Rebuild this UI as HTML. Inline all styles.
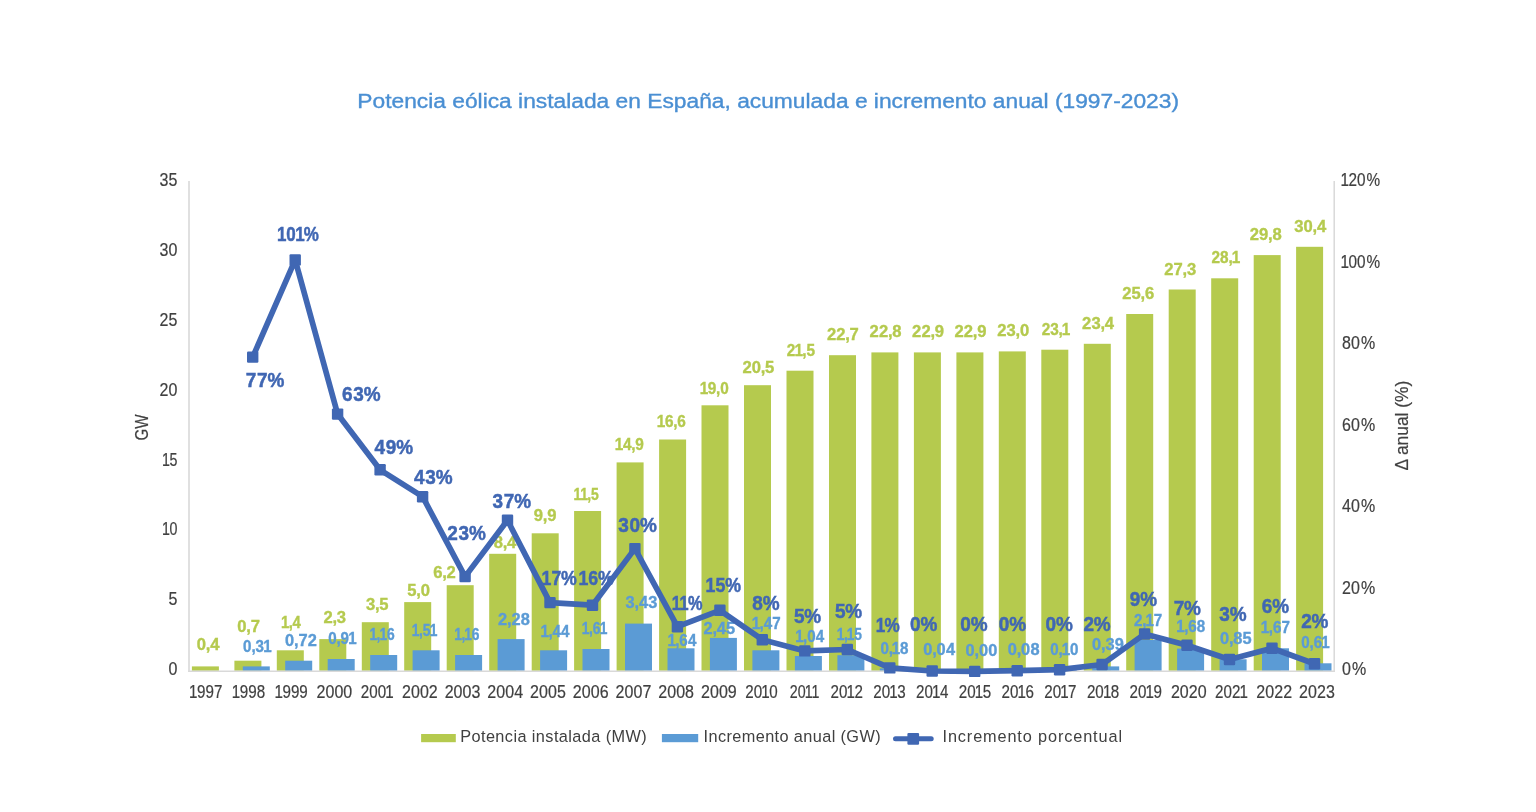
<!DOCTYPE html>
<html lang="es"><head><meta charset="utf-8"><title>Potencia eólica instalada en España</title>
<style>html,body{margin:0;padding:0;background:#fff}body{width:1536px;height:812px;overflow:hidden}svg{display:block}text{font-family:"Liberation Sans",sans-serif}.tk{font-size:18px;fill:#404040;stroke:#404040;stroke-width:.2px}.gl{font-size:16.6px;font-weight:bold;fill:#b5ca4e;stroke:#b5ca4e;stroke-width:.35px}.bl{font-size:16.4px;font-weight:bold;fill:#5b9bd5;stroke:#5b9bd5;stroke-width:.35px}.pl{font-size:20.4px;font-weight:bold;fill:#4067b3;stroke:#4067b3;stroke-width:.5px}.lg{font-size:16.3px;fill:#404040}</style></head><body>
<svg width="1536" height="812" viewBox="0 0 1536 812">
<rect width="1536" height="812" fill="#ffffff"/>
<text x="357.3" y="107.6" font-size="19.6" fill="#4a8fd3" stroke="#4a8fd3" stroke-width="0.35" textLength="821.7" lengthAdjust="spacingAndGlyphs">Potencia eólica instalada en España, acumulada e incremento anual (1997-2023)</text>
<g stroke="#d9d9d9" fill="none">
<line x1="189.0" y1="181.0" x2="189.0" y2="672.0" stroke-width="1.6"/>
<line x1="1334.2" y1="181.0" x2="1334.2" y2="672.0" stroke-width="1.5"/>
</g>
<g fill="#b5ca4e">
<rect x="191.9" y="666.4" width="27.0" height="4.4"/>
<rect x="234.4" y="660.7" width="27.0" height="10.1"/>
<rect x="276.8" y="650.3" width="27.0" height="20.5"/>
<rect x="319.3" y="639.1" width="27.0" height="31.7"/>
<rect x="361.8" y="622.2" width="27.0" height="48.6"/>
<rect x="404.2" y="602.1" width="27.0" height="68.7"/>
<rect x="446.7" y="585.2" width="27.0" height="85.6"/>
<rect x="489.2" y="553.8" width="27.0" height="117.0"/>
<rect x="531.7" y="533.3" width="27.0" height="137.5"/>
<rect x="574.1" y="511.0" width="27.0" height="159.8"/>
<rect x="616.6" y="462.4" width="27.0" height="208.4"/>
<rect x="659.1" y="439.5" width="27.0" height="231.3"/>
<rect x="701.5" y="405.3" width="27.0" height="265.5"/>
<rect x="744.0" y="385.2" width="27.0" height="285.6"/>
<rect x="786.5" y="370.7" width="27.0" height="300.1"/>
<rect x="829.0" y="355.2" width="27.0" height="315.6"/>
<rect x="871.4" y="352.4" width="27.0" height="318.4"/>
<rect x="913.9" y="352.4" width="27.0" height="318.4"/>
<rect x="956.4" y="352.4" width="27.0" height="318.4"/>
<rect x="998.8" y="351.4" width="27.0" height="319.4"/>
<rect x="1041.3" y="349.7" width="27.0" height="321.1"/>
<rect x="1083.8" y="343.8" width="27.0" height="327.0"/>
<rect x="1126.2" y="314.0" width="27.0" height="356.8"/>
<rect x="1168.7" y="289.5" width="27.0" height="381.3"/>
<rect x="1211.2" y="278.3" width="27.0" height="392.5"/>
<rect x="1253.7" y="255.1" width="27.0" height="415.7"/>
<rect x="1296.1" y="246.8" width="27.0" height="424.0"/>
</g>
<g fill="#5b9bd5">
<rect x="242.8" y="666.4" width="27.0" height="4.4"/>
<rect x="285.2" y="660.7" width="27.0" height="10.1"/>
<rect x="327.7" y="659.0" width="27.0" height="11.8"/>
<rect x="370.2" y="655.0" width="27.0" height="15.8"/>
<rect x="412.6" y="650.3" width="27.0" height="20.5"/>
<rect x="455.1" y="655.0" width="27.0" height="15.8"/>
<rect x="497.6" y="639.1" width="27.0" height="31.7"/>
<rect x="540.1" y="650.3" width="27.0" height="20.5"/>
<rect x="582.5" y="649.0" width="27.0" height="21.8"/>
<rect x="625.0" y="623.6" width="27.0" height="47.2"/>
<rect x="667.5" y="648.3" width="27.0" height="22.5"/>
<rect x="709.9" y="637.9" width="27.0" height="32.9"/>
<rect x="752.4" y="650.3" width="27.0" height="20.5"/>
<rect x="794.9" y="656.0" width="27.0" height="14.8"/>
<rect x="837.4" y="655.2" width="27.0" height="15.6"/>
<rect x="879.8" y="668.4" width="27.0" height="2.4"/>
<rect x="922.3" y="670.2" width="27.0" height="0.6"/>
<rect x="1007.2" y="669.7" width="27.0" height="1.1"/>
<rect x="1049.7" y="669.4" width="27.0" height="1.4"/>
<rect x="1092.2" y="666.4" width="27.0" height="4.4"/>
<rect x="1134.6" y="640.0" width="27.0" height="30.8"/>
<rect x="1177.1" y="648.6" width="27.0" height="22.2"/>
<rect x="1219.6" y="659.3" width="27.0" height="11.5"/>
<rect x="1262.0" y="648.3" width="27.0" height="22.5"/>
<rect x="1304.5" y="663.3" width="27.0" height="7.5"/>
</g>
<line x1="188.2" y1="671.2" x2="1335.0" y2="671.2" stroke="#d9d9d9" stroke-width="1.6"/>
<text class="tk" transform="translate(0,675.1) scale(0.890,1)" x="189.3">0</text>
<text class="tk" transform="translate(0,605.2) scale(0.890,1)" x="189.3">5</text>
<text class="tk" transform="translate(0,535.4) scale(0.792,1)" x="204.5 214.0">10</text>
<text class="tk" transform="translate(0,465.5) scale(0.792,1)" x="204.5 214.0">15</text>
<text class="tk" transform="translate(0,395.6) scale(0.890,1)" x="179.2 189.3">20</text>
<text class="tk" transform="translate(0,325.8) scale(0.890,1)" x="179.2 189.3">25</text>
<text class="tk" transform="translate(0,255.9) scale(0.890,1)" x="179.2 189.3">30</text>
<text class="tk" transform="translate(0,186.1) scale(0.890,1)" x="179.2 189.3">35</text>
<text class="tk" transform="translate(0,675.1) scale(0.890,1)" x="1508.0 1519.1">0%</text>
<text class="tk" transform="translate(0,593.6) scale(0.890,1)" x="1508.0 1518.1 1529.2">20%</text>
<text class="tk" transform="translate(0,512.1) scale(0.890,1)" x="1508.0 1518.1 1529.2">40%</text>
<text class="tk" transform="translate(0,430.6) scale(0.890,1)" x="1508.0 1518.1 1529.2">60%</text>
<text class="tk" transform="translate(0,349.1) scale(0.890,1)" x="1508.0 1518.1 1529.2">80%</text>
<text class="tk" transform="translate(0,267.6) scale(0.851,1)" x="1575.2 1584.7 1594.7 1605.9">100%</text>
<text class="tk" transform="translate(0,186.1) scale(0.851,1)" x="1575.2 1584.7 1594.7 1605.9">120%</text>
<text class="tk" transform="translate(0,697.6) scale(0.843,1)" x="224.2 233.7 243.7 253.8">1997</text>
<text class="tk" transform="translate(0,697.6) scale(0.843,1)" x="274.9 284.3 294.4 304.5">1998</text>
<text class="tk" transform="translate(0,697.6) scale(0.843,1)" x="325.6 335.0 345.1 355.1">1999</text>
<text class="tk" transform="translate(0,697.6) scale(0.890,1)" x="355.6 365.7 375.8 385.8">2000</text>
<text class="tk" transform="translate(0,697.6) scale(0.843,1)" x="428.0 438.1 448.1 457.0">2001</text>
<text class="tk" transform="translate(0,697.6) scale(0.890,1)" x="451.6 461.7 471.8 481.8">2002</text>
<text class="tk" transform="translate(0,697.6) scale(0.890,1)" x="499.6 509.7 519.8 529.8">2003</text>
<text class="tk" transform="translate(0,697.6) scale(0.890,1)" x="547.6 557.7 567.8 577.8">2004</text>
<text class="tk" transform="translate(0,697.6) scale(0.890,1)" x="595.6 605.7 615.8 625.8">2005</text>
<text class="tk" transform="translate(0,697.6) scale(0.890,1)" x="643.6 653.7 663.8 673.8">2006</text>
<text class="tk" transform="translate(0,697.6) scale(0.890,1)" x="691.6 701.7 711.8 721.8">2007</text>
<text class="tk" transform="translate(0,697.6) scale(0.890,1)" x="739.6 749.7 759.8 769.8">2008</text>
<text class="tk" transform="translate(0,697.6) scale(0.890,1)" x="787.6 797.7 807.8 817.8">2009</text>
<text class="tk" transform="translate(0,697.6) scale(0.843,1)" x="884.0 894.0 903.0 912.4">2010</text>
<text class="tk" transform="translate(0,697.6) scale(0.792,1)" x="997.2 1007.2 1016.2 1024.5">2011</text>
<text class="tk" transform="translate(0,697.6) scale(0.843,1)" x="985.3 995.4 1004.3 1013.7">2012</text>
<text class="tk" transform="translate(0,697.6) scale(0.843,1)" x="1036.0 1046.0 1054.9 1064.4">2013</text>
<text class="tk" transform="translate(0,697.6) scale(0.843,1)" x="1086.6 1096.7 1105.6 1115.1">2014</text>
<text class="tk" transform="translate(0,697.6) scale(0.843,1)" x="1137.3 1147.3 1156.3 1165.7">2015</text>
<text class="tk" transform="translate(0,697.6) scale(0.843,1)" x="1188.0 1198.0 1206.9 1216.4">2016</text>
<text class="tk" transform="translate(0,697.6) scale(0.843,1)" x="1238.6 1248.7 1257.6 1267.0">2017</text>
<text class="tk" transform="translate(0,697.6) scale(0.843,1)" x="1289.3 1299.3 1308.3 1317.7">2018</text>
<text class="tk" transform="translate(0,697.6) scale(0.843,1)" x="1339.9 1350.0 1358.9 1368.4">2019</text>
<text class="tk" transform="translate(0,697.6) scale(0.890,1)" x="1315.6 1325.7 1335.8 1345.8">2020</text>
<text class="tk" transform="translate(0,697.6) scale(0.843,1)" x="1441.3 1451.3 1461.4 1470.3">2021</text>
<text class="tk" transform="translate(0,697.6) scale(0.890,1)" x="1411.6 1421.7 1431.8 1441.8">2022</text>
<text class="tk" transform="translate(0,697.6) scale(0.890,1)" x="1459.6 1469.7 1479.8 1489.8">2023</text>
<text class="tk" transform="translate(148.2,427.5) rotate(-90)" text-anchor="middle" textLength="26" lengthAdjust="spacingAndGlyphs">GW</text>
<text class="tk" transform="translate(1408.2,425.6) rotate(-90)" text-anchor="middle" textLength="90" lengthAdjust="spacingAndGlyphs">Δ anual (%)</text>
<text class="gl" transform="translate(0,650.3) scale(1.000,1)" x="196.8 205.8 210.2">0,4</text>
<text class="gl" transform="translate(0,632.2) scale(1.000,1)" x="237.3 246.3 250.7">0,7</text>
<text class="gl" transform="translate(0,627.9) scale(0.892,1)" x="315.0 323.6 327.9">1,4</text>
<text class="gl" transform="translate(0,623.3) scale(1.000,1)" x="323.4 332.4 336.8">2,3</text>
<text class="gl" transform="translate(0,610.3) scale(1.000,1)" x="365.9 374.9 379.3">3,5</text>
<text class="gl" transform="translate(0,595.5) scale(1.000,1)" x="407.3 416.3 420.7">5,0</text>
<text class="gl" transform="translate(0,578.3) scale(1.000,1)" x="433.2 442.2 446.6">6,2</text>
<text class="gl" transform="translate(0,548.3) scale(1.000,1)" x="493.7 502.7 507.1">8,4</text>
<text class="gl" transform="translate(0,520.7) scale(1.000,1)" x="533.8 542.8 547.2">9,9</text>
<text class="gl" transform="translate(0,500.2) scale(0.842,1)" x="681.1 689.0 697.6 702.0">11,5</text>
<text class="gl" transform="translate(0,450.2) scale(0.925,1)" x="664.6 673.4 682.4 686.8">14,9</text>
<text class="gl" transform="translate(0,427.1) scale(0.925,1)" x="710.0 718.8 727.8 732.2">16,6</text>
<text class="gl" transform="translate(0,394.3) scale(0.925,1)" x="756.4 765.2 774.2 778.6">19,0</text>
<text class="gl" transform="translate(0,372.8) scale(1.000,1)" x="742.4 751.7 760.7 765.1">20,5</text>
<text class="gl" transform="translate(0,356.4) scale(0.925,1)" x="850.5 858.9 867.4 871.8">21,5</text>
<text class="gl" transform="translate(0,340.3) scale(1.000,1)" x="826.9 836.2 845.2 849.6">22,7</text>
<text class="gl" transform="translate(0,337.4) scale(1.000,1)" x="869.6 878.9 887.9 892.3">22,8</text>
<text class="gl" transform="translate(0,336.9) scale(1.000,1)" x="912.1 921.4 930.4 934.8">22,9</text>
<text class="gl" transform="translate(0,336.9) scale(1.000,1)" x="954.5 963.8 972.8 977.2">22,9</text>
<text class="gl" transform="translate(0,335.5) scale(1.000,1)" x="997.2 1006.5 1015.5 1019.9">23,0</text>
<text class="gl" transform="translate(0,334.7) scale(0.925,1)" x="1126.1 1135.4 1144.4 1147.9">23,1</text>
<text class="gl" transform="translate(0,329.0) scale(1.000,1)" x="1082.1 1091.4 1100.4 1104.8">23,4</text>
<text class="gl" transform="translate(0,298.8) scale(1.000,1)" x="1122.2 1131.5 1140.5 1144.9">25,6</text>
<text class="gl" transform="translate(0,275.2) scale(1.000,1)" x="1164.2 1173.5 1182.5 1186.9">27,3</text>
<text class="gl" transform="translate(0,263.1) scale(0.925,1)" x="1309.7 1319.0 1328.0 1331.5">28,1</text>
<text class="gl" transform="translate(0,240.4) scale(1.000,1)" x="1249.7 1259.0 1268.0 1272.4">29,8</text>
<text class="gl" transform="translate(0,232.1) scale(1.000,1)" x="1294.3 1303.6 1312.6 1317.0">30,4</text>
<text class="bl" transform="translate(0,652.1) scale(0.925,1)" x="262.8 271.8 276.2 284.5">0,31</text>
<text class="bl" transform="translate(0,645.5) scale(1.000,1)" x="285.1 294.1 298.5 307.8">0,72</text>
<text class="bl" transform="translate(0,644.0) scale(0.925,1)" x="354.8 363.8 368.2 376.6">0,91</text>
<text class="bl" transform="translate(0,640.3) scale(0.842,1)" x="438.8 447.3 450.8 459.7">1,16</text>
<text class="bl" transform="translate(0,635.7) scale(0.842,1)" x="489.1 497.7 502.1 510.4">1,51</text>
<text class="bl" transform="translate(0,640.0) scale(0.842,1)" x="539.5 548.0 551.5 560.3">1,16</text>
<text class="bl" transform="translate(0,625.0) scale(1.000,1)" x="498.0 507.0 511.4 520.7">2,28</text>
<text class="bl" transform="translate(0,636.6) scale(0.925,1)" x="584.4 592.9 597.3 606.6">1,44</text>
<text class="bl" transform="translate(0,634.0) scale(0.842,1)" x="690.9 699.4 703.9 712.2">1,61</text>
<text class="bl" transform="translate(0,607.8) scale(1.000,1)" x="625.6 634.6 639.0 648.3">3,43</text>
<text class="bl" transform="translate(0,646.0) scale(0.925,1)" x="721.5 730.0 734.4 743.7">1,64</text>
<text class="bl" transform="translate(0,633.6) scale(1.000,1)" x="703.4 712.4 716.8 726.1">2,45</text>
<text class="bl" transform="translate(0,628.8) scale(0.925,1)" x="812.6 821.2 825.6 834.9">1,47</text>
<text class="bl" transform="translate(0,641.7) scale(0.925,1)" x="859.7 868.2 872.6 881.9">1,04</text>
<text class="bl" transform="translate(0,640.0) scale(0.842,1)" x="993.7 1002.3 1005.7 1014.6">1,15</text>
<text class="bl" transform="translate(0,653.8) scale(0.925,1)" x="951.8 960.8 964.2 973.1">0,18</text>
<text class="bl" transform="translate(0,655.2) scale(1.000,1)" x="923.2 932.2 936.6 945.9">0,04</text>
<text class="bl" transform="translate(0,655.9) scale(1.000,1)" x="965.5 974.5 978.9 988.2">0,00</text>
<text class="bl" transform="translate(0,654.7) scale(1.000,1)" x="1007.7 1016.7 1021.1 1030.4">0,08</text>
<text class="bl" transform="translate(0,654.7) scale(0.925,1)" x="1135.4 1144.4 1147.8 1156.7">0,10</text>
<text class="bl" transform="translate(0,650.3) scale(1.000,1)" x="1092.0 1101.0 1105.4 1114.7">0,39</text>
<text class="bl" transform="translate(0,626.2) scale(0.925,1)" x="1225.9 1234.9 1238.3 1247.2">2,17</text>
<text class="bl" transform="translate(0,632.2) scale(0.925,1)" x="1271.6 1280.2 1284.6 1293.9">1,68</text>
<text class="bl" transform="translate(0,644.3) scale(1.000,1)" x="1219.9 1228.9 1233.3 1242.6">0,85</text>
<text class="bl" transform="translate(0,632.8) scale(0.925,1)" x="1363.1 1371.6 1376.1 1385.4">1,67</text>
<text class="bl" transform="translate(0,647.8) scale(0.925,1)" x="1406.8 1415.8 1420.2 1428.5">0,61</text>
<text class="pl" transform="translate(0,387.2) scale(0.930,1)" x="264.3 276.4 287.6">77%</text>
<text class="pl" transform="translate(0,241.0) scale(0.832,1)" x="332.8 344.1 354.8 365.2">101%</text>
<text class="pl" transform="translate(0,400.7) scale(0.930,1)" x="367.8 379.8 391.0">63%</text>
<text class="pl" transform="translate(0,454.3) scale(0.930,1)" x="402.8 414.9 426.1">49%</text>
<text class="pl" transform="translate(0,484.1) scale(0.930,1)" x="445.2 457.2 468.5">43%</text>
<text class="pl" transform="translate(0,540.2) scale(0.930,1)" x="481.0 493.0 504.3">23%</text>
<text class="pl" transform="translate(0,507.9) scale(0.930,1)" x="529.7 541.7 553.0">37%</text>
<text class="pl" transform="translate(0,585.2) scale(0.869,1)" x="623.2 634.5 645.7">17%</text>
<text class="pl" transform="translate(0,585.2) scale(0.869,1)" x="665.7 677.0 688.2">16%</text>
<text class="pl" transform="translate(0,531.9) scale(0.930,1)" x="664.9 676.9 688.1">30%</text>
<text class="pl" transform="translate(0,610.3) scale(0.800,1)" x="839.6 849.5 859.9">11%</text>
<text class="pl" transform="translate(0,591.7) scale(0.869,1)" x="812.0 823.3 834.5">15%</text>
<text class="pl" transform="translate(0,610.3) scale(0.930,1)" x="808.8 820.1">8%</text>
<text class="pl" transform="translate(0,622.8) scale(0.930,1)" x="853.7 864.9">5%</text>
<text class="pl" transform="translate(0,618.4) scale(0.930,1)" x="897.8 909.0">5%</text>
<text class="pl" transform="translate(0,632.2) scale(0.841,1)" x="1041.2 1051.7">1%</text>
<text class="pl" transform="translate(0,630.9) scale(0.930,1)" x="978.6 989.9">0%</text>
<text class="pl" transform="translate(0,630.9) scale(0.930,1)" x="1032.6 1043.8">0%</text>
<text class="pl" transform="translate(0,630.9) scale(0.930,1)" x="1074.0 1085.2">0%</text>
<text class="pl" transform="translate(0,630.9) scale(0.930,1)" x="1124.2 1135.4">0%</text>
<text class="pl" transform="translate(0,630.9) scale(0.930,1)" x="1165.0 1176.2">2%</text>
<text class="pl" transform="translate(0,605.9) scale(0.930,1)" x="1214.9 1226.1">9%</text>
<text class="pl" transform="translate(0,615.3) scale(0.930,1)" x="1262.0 1273.2">7%</text>
<text class="pl" transform="translate(0,621.0) scale(0.930,1)" x="1311.0 1322.2">3%</text>
<text class="pl" transform="translate(0,612.8) scale(0.930,1)" x="1356.7 1367.9">6%</text>
<text class="pl" transform="translate(0,627.9) scale(0.930,1)" x="1399.1 1410.3">2%</text>
<polyline fill="none" stroke="#4067b3" stroke-width="5.7" stroke-linejoin="round" stroke-linecap="round" points="252.7,357.1 295.2,259.9 337.6,414.1 380.1,469.8 422.6,496.7 465.1,576.6 507.5,520.3 550.0,602.6 592.5,605.2 634.9,548.6 677.4,626.7 719.9,610.3 762.3,639.7 804.8,650.9 847.3,649.5 889.8,667.9 932.2,671.0 974.7,671.4 1017.2,670.7 1059.6,669.7 1102.1,664.5 1144.6,634.0 1187.0,645.2 1229.5,659.5 1272.0,648.3 1314.5,663.8"/>
<g fill="#4067b3">
<rect x="247.0" y="351.4" width="11.4" height="11.4" rx="1.2"/>
<rect x="289.5" y="254.2" width="11.4" height="11.4" rx="1.2"/>
<rect x="331.9" y="408.4" width="11.4" height="11.4" rx="1.2"/>
<rect x="374.4" y="464.1" width="11.4" height="11.4" rx="1.2"/>
<rect x="416.9" y="491.0" width="11.4" height="11.4" rx="1.2"/>
<rect x="459.4" y="570.9" width="11.4" height="11.4" rx="1.2"/>
<rect x="501.8" y="514.6" width="11.4" height="11.4" rx="1.2"/>
<rect x="544.3" y="596.9" width="11.4" height="11.4" rx="1.2"/>
<rect x="586.8" y="599.5" width="11.4" height="11.4" rx="1.2"/>
<rect x="629.2" y="542.9" width="11.4" height="11.4" rx="1.2"/>
<rect x="671.7" y="621.0" width="11.4" height="11.4" rx="1.2"/>
<rect x="714.2" y="604.6" width="11.4" height="11.4" rx="1.2"/>
<rect x="756.6" y="634.0" width="11.4" height="11.4" rx="1.2"/>
<rect x="799.1" y="645.2" width="11.4" height="11.4" rx="1.2"/>
<rect x="841.6" y="643.8" width="11.4" height="11.4" rx="1.2"/>
<rect x="884.1" y="662.2" width="11.4" height="11.4" rx="1.2"/>
<rect x="926.5" y="665.3" width="11.4" height="11.4" rx="1.2"/>
<rect x="969.0" y="665.7" width="11.4" height="11.4" rx="1.2"/>
<rect x="1011.5" y="665.0" width="11.4" height="11.4" rx="1.2"/>
<rect x="1053.9" y="664.0" width="11.4" height="11.4" rx="1.2"/>
<rect x="1096.4" y="658.8" width="11.4" height="11.4" rx="1.2"/>
<rect x="1138.9" y="628.3" width="11.4" height="11.4" rx="1.2"/>
<rect x="1181.3" y="639.5" width="11.4" height="11.4" rx="1.2"/>
<rect x="1223.8" y="653.8" width="11.4" height="11.4" rx="1.2"/>
<rect x="1266.3" y="642.6" width="11.4" height="11.4" rx="1.2"/>
<rect x="1308.8" y="658.1" width="11.4" height="11.4" rx="1.2"/>
</g>
<rect x="421.1" y="734" width="34.7" height="8.2" fill="#b5ca4e"/>
<text class="lg" x="460.2" y="741.7" textLength="186.5" lengthAdjust="spacing">Potencia instalada (MW)</text>
<rect x="661.9" y="734" width="36.3" height="8.2" fill="#5b9bd5"/>
<text class="lg" x="703.6" y="741.7" textLength="177" lengthAdjust="spacing">Incremento anual (GW)</text>
<line x1="895.5" y1="738.8" x2="931.2" y2="738.8" stroke="#4067b3" stroke-width="5" stroke-linecap="round"/>
<rect x="907.4" y="732.9" width="11.7" height="11.8" rx="1.2" fill="#4067b3"/>
<text class="lg" x="942.5" y="741.7" textLength="179.5" lengthAdjust="spacing">Incremento porcentual</text>
</svg></body></html>
